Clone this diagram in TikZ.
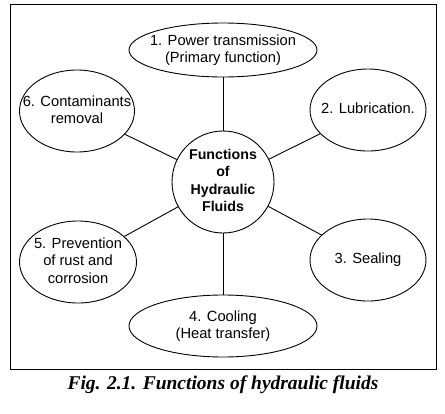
\documentclass[tikz,border=0pt]{standalone}
\usepackage{fontspec}
\setmainfont{Liberation Sans}
\newfontfamily\capfont{Liberation Serif}
\usetikzlibrary{shapes.geometric}
\newcommand\fnlabel[1]{\smash{\makebox[0pt]{\raisebox{-0.27em}{\begin{tabular}{@{}c@{}}#1\end{tabular}}}}}
\begin{document}
\begin{tikzpicture}[x=1pt,y=-1pt,
  fn/.style={draw, line width=0.9pt, ellipse, inner sep=0pt, font=\fontsize{14.7}{17.5}\selectfont},
  link/.style={line width=0.9pt}]
\useasboundingbox (0,0) rectangle (445,413);
\draw[line width=0.8pt] (10,4) rectangle (436,369);
\node[fn, minimum width=188, minimum height=54] (e1) at (223,50) {\fnlabel{1. Power transmission\\(Primary function)}};
\node[fn, minimum width=116, minimum height=82] (e2) at (368,110) {\fnlabel{2. Lubrication.}};
\node[fn, minimum width=116, minimum height=82] (e3) at (368,260) {\fnlabel{3. Sealing}};
\node[fn, minimum width=188, minimum height=62] (e4) at (223,326) {\fnlabel{4. Cooling\\(Heat transfer)}};
\node[fn, minimum width=117, minimum height=82] (e5) at (78,262) {\fnlabel{5. Prevention\\of rust and\\corrosion}};
\node[fn, minimum width=115, minimum height=82] (e6) at (77,111) {\fnlabel{6. Contaminants\\removal}};
\node[draw, line width=0.9pt, circle, minimum size=102, inner sep=0pt,
  font=\fontsize{14.2}{17.5}\selectfont\bfseries] (c) at (223,182) {\fnlabel{Functions\\of\\Hydraulic\\Fluids}};
\foreach \e in {e1,e2,e3,e4,e5,e6} \draw[link] (c) -- (\e);
\node[font=\capfont\fontsize{19.5}{22}\selectfont\bfseries\itshape] (cap) at (223,385) {Fig. 2.1. Functions of hydraulic fluids};
\end{tikzpicture}
\end{document}
